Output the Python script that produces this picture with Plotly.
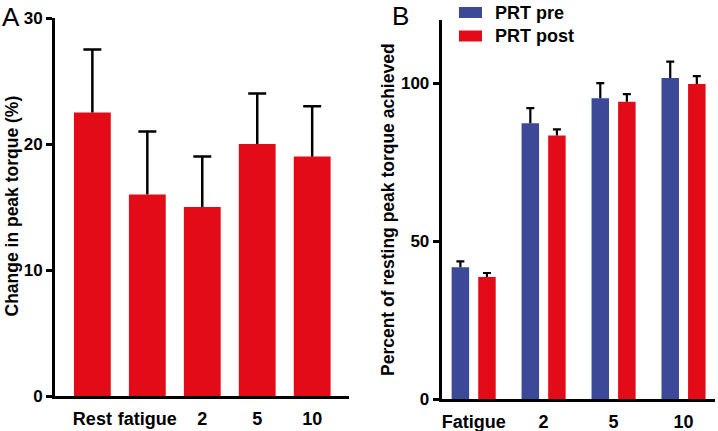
import plotly.graph_objects as go

# Panel A data
a_categories = ["Rest", "fatigue", "2", "5", "10"]
a_values = [22.5, 16, 15, 20, 19]
a_errors = [5, 5, 4, 4, 4]
a_yticks = [0, 10, 20, 30]

# Panel B data
b_categories = ["Fatigue", "2", "5", "10"]
b_pre = [41.7, 87.3, 95.2, 101.6]
b_pre_err = [1.9, 4.8, 4.8, 5.2]
b_post = [38.6, 83.4, 94.1, 99.7]
b_post_err = [1.3, 2.0, 2.4, 2.5]
b_yticks = [0, 50, 100]

RED = "#E30B17"
BLUE = "#3C4898"
FONT = "Liberation Sans"
W, H = 718, 431

fig = go.Figure()


def add_bars(cats, vals, errs, color, width, offset, cap, thick, xa, ya, name):
    kw = {} if offset is None else dict(offset=offset)
    fig.add_trace(go.Bar(
        x=cats, y=vals, width=width, marker=dict(color=color, line=dict(width=0)),
        error_y=dict(type="data", symmetric=False, array=errs, arrayminus=[0] * len(errs),
                     color="black", thickness=thick, width=0),
        xaxis=xa, yaxis=ya, name=name, showlegend=False, **kw))
    # caps at the top of each error bar
    tops = [v + e for v, e in zip(vals, errs)]
    fig.add_trace(go.Bar(
        x=cats, y=tops, width=width, marker=dict(color="rgba(0,0,0,0)", line=dict(width=0)),
        error_y=dict(type="data", symmetric=True, array=[0] * len(errs),
                     color="black", thickness=thick, width=cap),
        xaxis=xa, yaxis=ya, showlegend=False, hoverinfo="skip", **kw))


add_bars(a_categories, a_values, a_errors, RED, 0.67, None, 9, 2.5, "x", "y", "A")
add_bars(b_categories, b_pre, b_pre_err, BLUE, 0.25, -0.315, 4, 2.2, "x2", "y2", "PRT pre")
add_bars(b_categories, b_post, b_post_err, RED, 0.25, 0.065, 4, 2.2, "x2", "y2", "PRT post")

tickfont = dict(family=FONT, size=17, color="black", weight="bold")
xtickfont = dict(family=FONT, size=18, color="black", weight="bold")


def px_x(p):
    return p / W


def px_y(p):
    return 1 - p / H


axis_common = dict(showline=True, linecolor="black", linewidth=3, showgrid=False,
                   zeroline=False, automargin=False)

fig.update_layout(
    width=W, height=H, autosize=False,
    margin=dict(l=0, r=0, t=0, b=0),
    paper_bgcolor="white", plot_bgcolor="white",
    barmode="overlay",
    xaxis=dict(domain=[px_x(55), px_x(349)], anchor="y", type="category",
               range=[-0.68, 4.67], ticks="", tickfont=xtickfont, ticklabelstandoff=4, **axis_common),
    yaxis=dict(domain=[px_y(396), px_y(18)], anchor="x", range=[0, 30], tickvals=a_yticks,
               ticks="outside", ticklen=6, tickwidth=2.5, tickcolor="black", tickfont=tickfont, **axis_common),
    xaxis2=dict(domain=[px_x(441.7), px_x(715)], anchor="y2", type="category",
                range=[-0.457, 3.45], ticks="", tickfont=xtickfont, ticklabelstandoff=4, **axis_common),
    yaxis2=dict(domain=[px_y(399), px_y(20)], anchor="x2", range=[0, 120], tickvals=b_yticks,
                ticks="outside", ticklen=6, tickwidth=2.5, tickcolor="black", tickfont=tickfont, **axis_common),
)

ann_font = dict(family=FONT, size=17.5, color="black", weight="bold")
fig.add_annotation(x=px_x(12), y=px_y(206.5), xref="paper", yref="paper", text="Change in peak torque (%)",
                   textangle=-90, showarrow=False, font=ann_font, xanchor="center", yanchor="middle")
fig.add_annotation(x=px_x(388), y=px_y(209), xref="paper", yref="paper",
                   text="Percent of resting peak torque achieved",
                   textangle=-90, showarrow=False, font=ann_font, xanchor="center", yanchor="middle")

letter_font = dict(family=FONT, size=26, color="black")
fig.add_annotation(x=px_x(0), y=px_y(0), xref="paper", yref="paper", text="A", showarrow=False,
                   font=letter_font, xanchor="left", yanchor="top")
fig.add_annotation(x=px_x(390), y=px_y(-1), xref="paper", yref="paper", text="B", showarrow=False,
                   font=letter_font, xanchor="left", yanchor="top")

# Legend (custom swatches)
legend_items = [("PRT pre", BLUE, 12.5), ("PRT post", RED, 36)]
for label, color, yc in legend_items:
    fig.add_shape(type="rect", xref="paper", yref="paper",
                  x0=px_x(459), x1=px_x(482), y0=px_y(yc - 5.5), y1=px_y(yc + 5.5),
                  fillcolor=color, line=dict(width=0))
    fig.add_annotation(x=px_x(493), y=px_y(yc), xref="paper", yref="paper", text=label, showarrow=False,
                       font=dict(family=FONT, size=18, color="black", weight="bold"),
                       xanchor="left", yanchor="middle")

fig.write_html("out.html", config={"displayModeBar": False},
               post_script="document.body.style.margin='0';document.body.style.overflow='hidden';")
